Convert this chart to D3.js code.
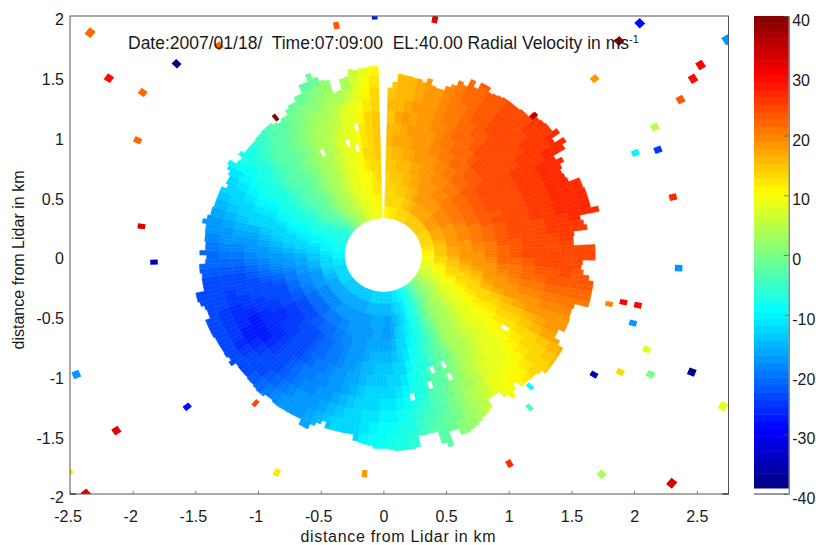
<!DOCTYPE html>
<html>
<head>
<meta charset="utf-8">
<script src="https://cdn.jsdelivr.net/npm/d3@7"></script>
<style>
  body { margin: 0; background: #fff; }
  text { font-family: "Liberation Sans", sans-serif; font-size: 16px; fill: #1a1a1a; }
</style>
</head>
<body>
<div id="chart"></div>
<script>
var xTicks = [-2.5, -2, -1.5, -1, -0.5, 0, 0.5, 1, 1.5, 2, 2.5];
var yTicks = [-2, -1.5, -1, -0.5, 0, 0.5, 1, 1.5, 2];
var barTicks = [-40, -30, -20, -10, 0, 10, 20, 30, 40];

// beam centres in degrees from north, clockwise. The north beam is missing in the scan.
var beamAz = d3.range(3, 358, 3);

// radial velocity (m/s) read per beam, one value per 0.1 km gate starting at 0.31 km
var velocity = [
  [11,13,14,14,15,15,16,16,15,16,15,15],
  [11,13,14,15,15,16,17,16,17,16,16,16,15],
  [12,13,14,15,16,16,17,17,18,17,16,16,16],
  [12,14,15,15,16,17,17,18,17,18,17,17,17],
  [12,14,15,16,16,17,18,18,18,18,18,18,18],
  [13,14,15,16,17,18,18,19,19,18,19,19,19],
  [13,15,16,17,17,18,19,19,20,20,20,20,20,20],
  [14,15,16,17,18,19,20,20,20,21,21,21,21,21],
  [14,16,17,18,18,19,20,21,21,21,21,22,22,22],
  [14,16,18,18,19,20,21,21,22,22,22,22,22,23],
  [15,17,18,19,20,20,21,22,22,22,23,23,23,23],
  [15,17,18,19,20,21,22,22,22,23,23,23,23,24],
  [15,17,19,20,20,21,22,22,23,23,24,24,24,24],
  [15,17,19,20,21,22,22,23,24,24,24,24,25,25],
  [15,17,19,20,21,22,23,24,24,24,25,25,25,25],
  [15,17,19,21,21,22,23,24,24,25,25,25,26,26],
  [15,18,20,21,22,23,23,24,25,25,25,26,26,26],
  [15,18,20,21,22,23,24,24,25,25,26,26,26,27],
  [15,18,20,21,22,23,24,25,25,26,26,26,27,27],
  [14,18,20,21,22,23,24,24,25,26,26,27,27,27],
  [14,17,20,21,22,23,24,25,25,26,26,27,27],
  [14,17,19,21,22,23,24,24,25,26,26,27,27],
  [14,17,19,20,22,23,23,24,25,26,26,27,27,27],
  [14,17,19,20,21,23,24,24,25,26,26,27,27,27],
  [13,16,19,20,21,22,23,24,25,26,26,27,27,27],
  [13,16,18,20,21,22,23,24,25,25,26,26,27,27],
  [12,15,18,19,21,22,23,24,24,25,26,26,26,26],
  [12,15,17,19,20,21,23,23,24,25,25,26,26],
  [11,15,17,19,20,21,22,23,24,25,25,25,25,25],
  [11,15,17,18,19,21,22,23,24,24,25,25,24,24],
  [10,14,16,18,19,20,22,22,23,24,24,24,24],
  [10,13,15,17,18,19,21,21,22,23,23,24,23,23],
  [9,12,15,16,17,19,20,21,22,22,23,23,23,23],
  [8,11,14,15,16,18,19,20,21,21,22,22,22,22],
  [8,11,13,14,15,17,18,19,20,20,21,21,21,21],
  [7,10,12,13,14,16,17,18,18,19,20,20,20],
  [7,9,11,12,13,14,15,16,17,18,19,19,19],
  [6,8,10,11,12,13,14,15,15,16,17,18,18],
  [6,7,9,10,11,12,12,13,14,15,16,17,17,17],
  [5,6,8,9,10,11,11,12,12,13,14,15,16,17],
  [4,5,7,8,9,10,10,11,11,12,13,14,15,16],
  [3,4,6,7,8,9,9,10,10,11,12,13,14,15],
  [2,3,5,6,7,8,8,9,9,10,11,12,13],
  [1,2,4,5,6,7,7,8,9,9,10,11,12],
  [0,1,3,4,5,6,6,7,8,9,10,11,11],
  [-1,0,2,3,4,5,5,6,7,8,9,10,10],
  [-3,-1,1,2,3,4,4,5,6,7,8,9,9],
  [-4,-2,0,1,2,3,3,4,5,5,6,7],
  [-5,-4,-2,-1,0,1,1,2,3,4,5,5,6],
  [-7,-6,-4,-3,-2,-1,-1,0,1,2,3,3,4],
  [-8,-7,-6,-5,-4,-3,-2,-1,0,1,1,2,2],
  [-9,-8,-8,-7,-6,-5,-4,-3,-2,-1,0,0,1],
  [-10,-10,-9,-8,-7,-6,-6,-4,-3,-3,-2,-1,-1],
  [-10,-11,-11,-10,-9,-8,-7,-6,-5,-4,-4,-2,-2,-2],
  [-11,-12,-12,-11,-10,-9,-8,-7,-7,-6,-5,-4,-3],
  [-11,-13,-14,-13,-12,-11,-10,-9,-8,-7,-6,-5,-5],
  [-12,-14,-15,-14,-13,-12,-12,-11,-10,-9,-8,-7,-6,-6],
  [-12,-15,-16,-16,-15,-14,-13,-12,-11,-10,-9,-8,-8],
  [-12,-15,-17,-17,-16,-15,-14,-13,-12,-11,-10,-9,-8,-8],
  [-13,-15,-16,-17,-16,-15,-14,-14,-13,-11,-10,-9,-9,-8],
  [-13,-15,-16,-16,-16,-15,-14,-14,-13,-12,-11,-10,-9],
  [-13,-15,-16,-16,-16,-15,-15,-14,-13,-12,-11,-11,-10],
  [-13,-15,-16,-17,-16,-16,-15,-15,-14,-13,-12,-12],
  [-13,-15,-17,-17,-17,-17,-16,-16,-15,-14,-13,-13],
  [-13,-15,-17,-18,-17,-17,-17,-16,-16,-15,-14,-13,-13],
  [-14,-16,-17,-18,-18,-18,-18,-17,-17,-16,-15,-14,-14],
  [-14,-16,-17,-18,-19,-19,-19,-18,-18,-17,-16,-15,-15],
  [-14,-16,-17,-18,-19,-20,-20,-19,-19,-18,-17,-16,-16],
  [-14,-16,-17,-19,-20,-20,-20,-20,-19,-19,-18,-17,-17],
  [-14,-16,-18,-19,-20,-21,-21,-20,-20,-19,-18,-18,-17],
  [-14,-16,-18,-20,-21,-21,-21,-21,-20,-20,-19,-18,-18],
  [-14,-16,-18,-20,-21,-22,-22,-22,-21,-21,-20,-19,-18],
  [-14,-16,-18,-20,-21,-23,-23,-23,-22,-22,-21,-20,-19],
  [-14,-16,-19,-20,-22,-23,-24,-24,-23,-23,-22,-21,-20],
  [-14,-16,-19,-21,-22,-24,-24,-24,-24,-24,-23,-22,-21],
  [-14,-16,-19,-21,-23,-24,-25,-25,-25,-24,-24,-23,-22],
  [-14,-16,-19,-21,-23,-25,-25,-26,-26,-25,-24,-23,-22],
  [-13,-16,-19,-21,-23,-25,-25,-26,-27,-26,-25,-24,-23],
  [-13,-16,-19,-21,-23,-25,-26,-26,-27,-27,-26,-24,-23],
  [-13,-16,-19,-21,-23,-25,-26,-26,-27,-27,-25,-24,-23],
  [-13,-16,-18,-20,-22,-24,-25,-26,-27,-26,-25,-24,-23],
  [-12,-15,-18,-20,-22,-24,-25,-25,-26,-26,-25,-24,-23],
  [-12,-15,-17,-19,-21,-23,-24,-25,-25,-26,-25,-24,-24],
  [-12,-14,-17,-19,-21,-23,-24,-24,-25,-25,-24,-24],
  [-12,-14,-17,-19,-20,-22,-23,-24,-24,-25,-24,-23,-23],
  [-11,-13,-16,-18,-20,-21,-22,-23,-23,-24,-24,-23],
  [-11,-13,-15,-17,-19,-20,-21,-22,-23,-23,-23,-23],
  [-11,-12,-15,-16,-18,-19,-20,-21,-22,-22,-22,-22],
  [-10,-12,-14,-16,-17,-18,-19,-20,-21,-21,-21,-21],
  [-10,-11,-14,-15,-16,-17,-18,-19,-20,-20,-21,-21],
  [-10,-11,-13,-14,-15,-16,-17,-18,-19,-19,-20,-20],
  [-9,-10,-12,-13,-14,-15,-16,-17,-18,-18,-19,-19],
  [-9,-10,-11,-12,-13,-14,-15,-16,-16,-17,-18,-18],
  [-9,-10,-10,-11,-12,-13,-14,-15,-15,-16,-17,-17],
  [-9,-9,-10,-10,-11,-12,-13,-13,-14,-15,-16,-16],
  [-8,-9,-9,-10,-10,-11,-12,-12,-13,-14,-15,-15],
  [-8,-8,-8,-9,-9,-10,-11,-11,-12,-13,-14,-14],
  [-8,-8,-7,-8,-8,-9,-10,-10,-11,-12,-13,-13],
  [-8,-7,-6,-7,-7,-8,-9,-9,-10,-11,-12,-12],
  [-7,-6,-5,-6,-6,-7,-8,-8,-9,-10,-11,-11],
  [-6,-5,-4,-5,-5,-6,-7,-7,-8,-9,-9,-10],
  [-5,-4,-3,-4,-4,-5,-5,-6,-7,-8,-8],
  [-4,-3,-2,-3,-3,-4,-4,-5,-6,-6,-7],
  [-2,-2,-1,-2,-2,-3,-3,-4,-4,-5,-6],
  [-1,0,0,-1,-1,-2,-2,-3,-3,-4,-5],
  [0,1,1,0,0,-1,-1,-2,-2,-3,-4],
  [1,2,2,1,1,0,0,-1,-1,-2,-3],
  [2,3,3,3,2,1,1,0,0,-1,-2],
  [3,4,4,4,3,3,2,1,1,0,-1],
  [4,5,5,5,4,4,3,3,2,1,0,-1],
  [5,6,6,6,5,5,4,4,3,2,1,-1],
  [6,7,7,7,6,6,5,5,4,3,1,0,-2],
  [7,8,8,8,8,7,7,6,5,4,2,1,-1,-1],
  [8,9,9,9,9,8,8,7,6,5,4,2,1],
  [9,9,10,10,10,9,9,8,8,7,4,3],
  [9,10,10,10,11,11,10,10,9,8,6,4,3],
  [10,10,11,11,12,13,12,12,11,10,8,7,6],
  [10,11,12,12,13,14,14,14,13,12,11,10,9],
  [10,11,12,13,14,15,15,15,15,14,13,12,11]
];

// where each half beam ends, km (two per beam, same order as above)
var rim = [
  1.40,1.45, 1.52,1.51, 1.51,1.50, 1.50,1.48, 1.52,1.47, 1.46,1.46, 1.50,1.53, 1.58,1.56,
  1.63,1.58, 1.64,1.64, 1.60,1.61, 1.62,1.63, 1.63,1.63, 1.63,1.64, 1.64,1.69, 1.68,1.69,
  1.70,1.70, 1.74,1.66, 1.74,1.70, 1.59,1.64, 1.60,1.58, 1.59,1.60, 1.69,1.69, 1.70,1.70,
  1.70,1.70, 1.76,1.60, 1.62,1.64, 1.53,1.52, 1.52,1.69, 1.69,1.69, 1.59,1.58, 1.60,1.65,
  1.69,1.69, 1.69,1.69, 1.69,1.58, 1.57,1.57, 1.58,1.58, 1.58,1.53, 1.53,1.58, 1.63,1.63,
  1.63,1.63, 1.63,1.63, 1.59,1.57, 1.57,1.56, 1.56,1.50, 1.54,1.58, 1.53,1.47, 1.47,1.47,
  1.54,1.56, 1.57,1.59, 1.61,1.62, 1.63,1.63, 1.57,1.57, 1.69,1.65, 1.54,1.54, 1.54,1.54,
  1.63,1.64, 1.64,1.64, 1.64,1.63, 1.62,1.62, 1.62,1.60, 1.59,1.58, 1.57,1.52, 1.52,1.52,
  1.52,1.52, 1.52,1.47, 1.50,1.53, 1.575,1.57, 1.52,1.52, 1.52,1.52, 1.52,1.52, 1.515,1.50,
  1.50,1.52, 1.52,1.51, 1.50,1.50, 1.49,1.49, 1.49,1.485, 1.525,1.50, 1.515,1.51, 1.51,1.51,
  1.51,1.52, 1.52,1.52, 1.52,1.48, 1.48,1.49, 1.515,1.53, 1.53,1.46, 1.46,1.46, 1.455,1.47,
  1.47,1.42, 1.41,1.465, 1.42,1.42, 1.43,1.43, 1.435,1.435, 1.47,1.44, 1.42,1.42, 1.41,1.41,
  1.41,1.41, 1.41,1.37, 1.39,1.39, 1.41,1.44, 1.46,1.40, 1.39,1.43, 1.40,1.40, 1.40,1.40,
  1.41,1.41, 1.42,1.42, 1.42,1.40, 1.38,1.40, 1.40,1.44, 1.46,1.46, 1.50,1.50, 1.57,1.57,
  1.63,1.58, 1.54,1.53, 1.41,1.42, 1.51,1.52, 1.575,1.56, 1.57,1.57, 1.58,1.58
];

// stray returns outside the main disc
var strayX = [-2.34,-2.19,-1.92,-1.65,-1.31,-1.96,-1.93,-1.83,-2.45,-1.565,-2.13,-1.02,-0.85,-2.515,-2.37,-0.15,-0.375,-0.07,0.41,-0.86,2.045,1.88,1.685,2.74,2.53,2.47,2.37,2.165,2.01,2.19,2.31,2.355,1.8,1.915,2.03,1.99,2.1,1.68,1.89,2.13,2.46,2.71,1.17,1.165,1.005,1.74,2.3,1.2];
var strayY = [1.86,1.48,1.36,1.6,1.75,0.96,0.24,-0.06,-1,-1.27,-1.47,-1.24,-1.82,-1.81,-2,-1.83,1.92,2,1.97,1.15,1.94,1.79,1.475,1.8,1.59,1.475,1.3,1.07,0.855,0.88,0.485,-0.11,-0.41,-0.395,-0.42,-0.57,-0.79,-1,-0.98,-1,-0.98,-1.265,-1.1,-1.275,-1.745,-1.835,-1.91,1.165];
var strayV = [22,30,22,-38,22,22,33,-33,-18,-28,32,25,12,12,33,18,23,-27,32,40,-28,38,19,-17,31,29,23,5,-10,-25,27,-18,20,31,30,-18,7,-36,13,0,-38,8,-9,-4,27,3,33,36];

// small holes inside the disc
var holeAz = [330.6,343.3,347,348.7,122.2,157.9,152.4,152.5,161,169];
var holeRange = [0.98,0.977,0.917,1.09,1.146,1.036,1.035,1.15,1.152,1.21];

var svgWidth = 816;
var svgHeight = 545;
var plot = { left: 70, right: 728.5, top: 16, bottom: 494 };

var svg = d3.select("#chart").append("svg")
  .attr("width", svgWidth)
  .attr("height", svgHeight);

var xScale = d3.scaleLinear().domain([-2.5, 2.5]).range([70, 696.8]);
var yScale = d3.scaleLinear().domain([-2, 2]).range([plot.bottom, plot.top]);
var barScale = d3.scaleLinear().domain([-40, 40]).range([plot.bottom, plot.top]);

// jet colormap, 64 levels like matlab
var jetStops = [0, 1 / 8, 3 / 8, 5 / 8, 7 / 8, 1];
var jetColors = ["#000080", "#0000ff", "#00ffff", "#ffff00", "#ff0000", "#800000"];
var jet = d3.scaleLinear().domain(jetStops).range(jetColors).clamp(true);
var level = d3.scaleQuantize().domain([-39, 40]).range(d3.range(64));
function velocityColor(v) {
  return jet((level(v) + 0.5) / 64);
}

var line = d3.line();

function polar(az, r) {
  var a = az * Math.PI / 180;
  return [xScale(r * Math.sin(a)), yScale(r * Math.cos(a))];
}

// ring sector between two azimuths and two ranges, through the x and y scales
function sector(az0, az1, r0, r1) {
  var mid = (az0 + az1) / 2;
  var pts = [az0, mid, az1].map(a => polar(a, r1));
  pts = pts.concat([az1, mid, az0].map(a => polar(a, r0)));
  return line(pts) + "Z";
}

var cells = [];
beamAz.forEach(function(az, i) {
  [0, 1].forEach(function(half) {
    var end = rim[i * 2 + half];
    var row = velocity[i];
    row.forEach(function(v, g) {
      var r0 = 0.31 + 0.1 * g;
      if (r0 >= end) return;
      var r1 = g === row.length - 1 ? end : Math.min(r0 + 0.1, end);
      cells.push({ az0: az - 1.5 + half * 1.5, az1: az + half * 1.5, r0: r0, r1: r1, v: v });
    });
  });
});

svg.append("defs").append("clipPath").attr("id", "plotClip")
  .append("rect")
  .attr("x", plot.left)
  .attr("y", plot.top)
  .attr("width", plot.right - plot.left)
  .attr("height", plot.bottom - plot.top);

var chartGroup = svg.append("g").attr("clip-path", "url(#plotClip)");

chartGroup.selectAll(".cell")
  .data(cells)
  .enter()
  .append("path")
  .attr("class", "cell")
  .attr("d", d => sector(d.az0, d.az1, d.r0, d.r1))
  .attr("fill", d => velocityColor(d.v))
  .attr("stroke", d => velocityColor(d.v))
  .attr("stroke-width", 0.5);

chartGroup.selectAll(".hole")
  .data(holeAz)
  .enter()
  .append("path")
  .attr("class", "hole")
  .attr("d", (d, i) => sector(d - 0.8, d + 0.8, holeRange[i] - 0.03, holeRange[i] + 0.03))
  .attr("fill", "#fff");

// stray returns are small sectors too, so they lean along the beam
chartGroup.selectAll(".stray")
  .data(strayV)
  .enter()
  .append("path")
  .attr("class", "stray")
  .attr("d", function(d, i) {
    var r = Math.hypot(strayX[i], strayY[i]);
    var az = Math.atan2(strayX[i], strayY[i]) * 180 / Math.PI;
    return sector(az - 0.65, az + 0.65, r - 0.03, r + 0.03);
  })
  .attr("fill", d => velocityColor(d));

// axes box
svg.append("rect")
  .attr("x", plot.left)
  .attr("y", plot.top)
  .attr("width", plot.right - plot.left)
  .attr("height", plot.bottom - plot.top)
  .attr("fill", "none")
  .attr("stroke", "#555")
  .attr("stroke-width", 1);

var bottomAxis = d3.axisBottom(xScale).tickValues(xTicks).tickSizeInner(-3).tickSizeOuter(0).tickPadding(17).tickFormat(String);
var xAxis = svg.append("g").attr("transform", `translate(0, ${plot.bottom})`).call(bottomAxis);
xAxis.select(".domain").remove();
xAxis.selectAll(".tick line").attr("stroke", "#777");
// the minus sign hangs the negative labels a little to the left
xAxis.selectAll(".tick text").attr("dx", d => d < 0 ? -2.5 : 0);

var leftAxis = d3.axisLeft(yScale).tickValues(yTicks).tickSize(0).tickPadding(6).tickFormat(String);
var yAxis = svg.append("g").attr("transform", `translate(${plot.left}, 0)`).call(leftAxis);
yAxis.select(".domain").remove();
yAxis.selectAll(".tick text").attr("dy", "0.55em");

// only the corner stubs of the box show darker in the picture
svg.append("line")
  .attr("x1", plot.left).attr("x2", plot.left + 6)
  .attr("y1", plot.bottom).attr("y2", plot.bottom)
  .attr("stroke", "#111");
svg.append("line")
  .attr("x1", plot.right - 6).attr("x2", plot.right)
  .attr("y1", plot.bottom).attr("y2", plot.bottom)
  .attr("stroke", "#111");

svg.selectAll("g.tick text")
  .style("font-size", "16px")
  .style("font-family", '"Liberation Sans", sans-serif')
  .attr("fill", "#1a1a1a");

svg.append("text")
  .attr("x", 398)
  .attr("y", 542)
  .attr("text-anchor", "middle")
  .attr("textLength", 195)
  .text("distance from Lidar in km");

svg.append("text")
  .attr("transform", "translate(24, 260) rotate(-90)")
  .attr("text-anchor", "middle")
  .attr("textLength", 179)
  .text("distance from Lidar in km");

var title = svg.append("text")
  .attr("x", 128)
  .attr("y", 49)
  .attr("xml:space", "preserve")
  .style("font-size", "17.5px");
title.append("tspan").text("Date:2007/01/18/  Time:07:09:00  EL:40.00 Radial Velocity in ms");
title.append("tspan").attr("dy", -6).style("font-size", "11px").text("-1");

// colorbar
var barX = 754;
var barRight = 788.7;
var barLevelH = (488 - 16) / 64;
svg.selectAll(".barLevel")
  .data(d3.range(64))
  .enter()
  .append("rect")
  .attr("class", "barLevel")
  .attr("x", barX)
  .attr("width", barRight - barX)
  .attr("y", d => 488 - (d + 1) * barLevelH)
  .attr("height", barLevelH + 0.5)
  .attr("fill", d => jet((d + 0.5) / 64));

svg.append("line")
  .attr("x1", barX).attr("x2", barRight)
  .attr("y1", plot.bottom).attr("y2", plot.bottom)
  .attr("stroke", "#333");

var barAxis = d3.axisRight(barScale).tickValues(barTicks).tickSizeInner(-5).tickSizeOuter(0).tickPadding(3.5).tickFormat(String);
var barG = svg.append("g").attr("transform", `translate(${barRight}, 0)`).call(barAxis);
barG.select(".domain").attr("stroke", "#555");
barG.selectAll(".tick line").attr("stroke", "#555").attr("stroke-opacity", 0.7);
barG.selectAll(".tick text")
  .attr("dy", "0.6em")
  .style("font-size", "16px")
  .style("font-family", '"Liberation Sans", sans-serif')
  .attr("fill", "#1a1a1a");
</script>
</body>
</html>
